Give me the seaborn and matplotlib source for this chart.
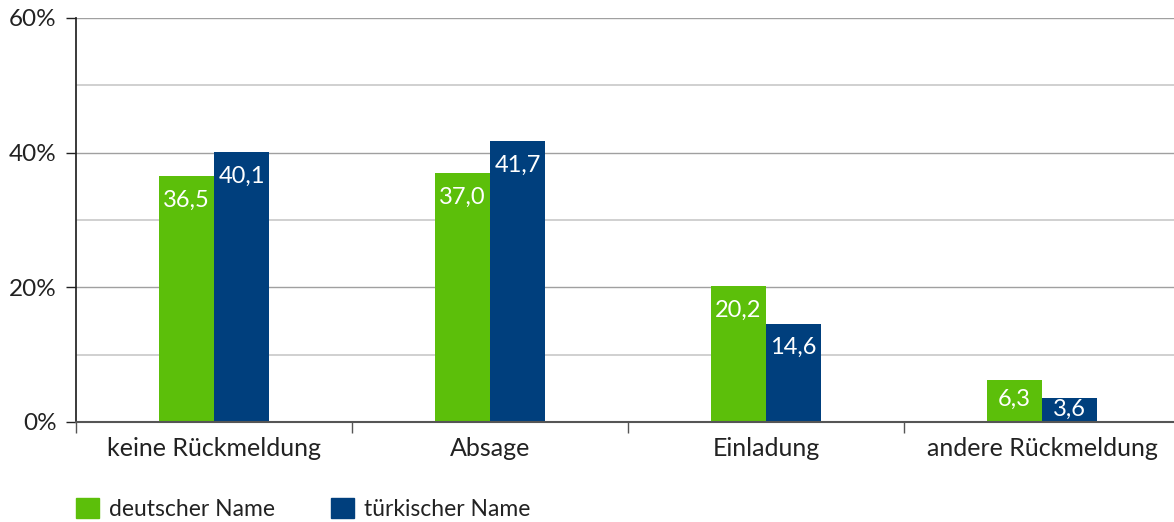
import pandas as pd
import numpy as np
import seaborn as sns
import matplotlib.pyplot as plt
from matplotlib.ticker import FixedLocator, FuncFormatter

categories = ["keine Rückmeldung", "Absage", "Einladung", "andere Rückmeldung"]
deutsch = [36.5, 37.0, 20.2, 6.3]
tuerkisch = [40.1, 41.7, 14.6, 3.6]
series = ["deutscher Name", "türkischer Name"]
colors = ["#5cbf0a", "#003f7d"]

df = pd.DataFrame({
    "Kategorie": categories * 2,
    "Gruppe": [series[0]] * 4 + [series[1]] * 4,
    "Wert": deutsch + tuerkisch,
})

sns.set_theme(style="white")
plt.rcParams["font.family"] = ["Lato", "DejaVu Sans"]

fig = plt.figure(figsize=(11.74, 5.22), dpi=100)
ax = fig.add_axes([76 / 1174, 1 - 422 / 522, 1104 / 1174, 404 / 522])

sns.barplot(data=df, x="Kategorie", y="Wert", hue="Gruppe", palette=colors,
            width=0.4, saturation=1, linewidth=0, ax=ax, legend=False)

ax.set_xlim(-0.5, 3.5)
ax.set_ylim(0, 60)
ax.set_xlabel("")
ax.set_ylabel("")

# grid
for v in [10, 30, 50]:
    ax.axhline(v, color="#c8c8c8", lw=1.2, zorder=0)
for v in [20, 40, 60]:
    ax.axhline(v, color="#a0a0a0", lw=1.0, zorder=0)

ax.set_yticks([0, 20, 40, 60])
ax.yaxis.set_major_formatter(FuncFormatter(lambda v, p: f"{v:.0f}%"))
ax.tick_params(axis="y", length=7, width=1, color="#222222", direction="out",
               left=True, labelsize=17.5, labelcolor="#222222", pad=7)
ax.tick_params(axis="x", which="major", length=0, labelsize=18,
               labelcolor="#222222", pad=11)
ax.xaxis.set_minor_locator(FixedLocator([-0.5, 0.5, 1.5, 2.5]))
ax.tick_params(axis="x", which="minor", length=8, width=1, color="#555555",
               bottom=True)

for s in ["top", "right"]:
    ax.spines[s].set_visible(False)
ax.spines["left"].set_color("#222222")
ax.spines["bottom"].set_color("#555555")
ax.spines["bottom"].set_linewidth(1.5)

# value labels inside bars
px_per_unit = 404 / 60
for bar in ax.patches:
    h = bar.get_height()
    if h <= 0:
        continue
    hp = h * px_per_unit
    off = min(24, hp / 2 - 1)
    ax.annotate(f"{h:.1f}".replace(".", ","),
                (bar.get_x() + bar.get_width() / 2, h),
                xytext=(0, -off * 0.72), textcoords="offset points",
                ha="center", va="center", color="white", fontsize=17)

handles = [plt.Rectangle((0, 0), 1, 1, color=c) for c in colors]
fig.legend(handles, series, loc="lower left", bbox_to_anchor=(55 / 1174, -0.035),
           ncol=2, frameon=False, fontsize=16.5, handlelength=1.0,
           handleheight=1.0, handletextpad=0.45, columnspacing=2.45,
           labelcolor="#222222")

fig.savefig("out.png", dpi=100)
